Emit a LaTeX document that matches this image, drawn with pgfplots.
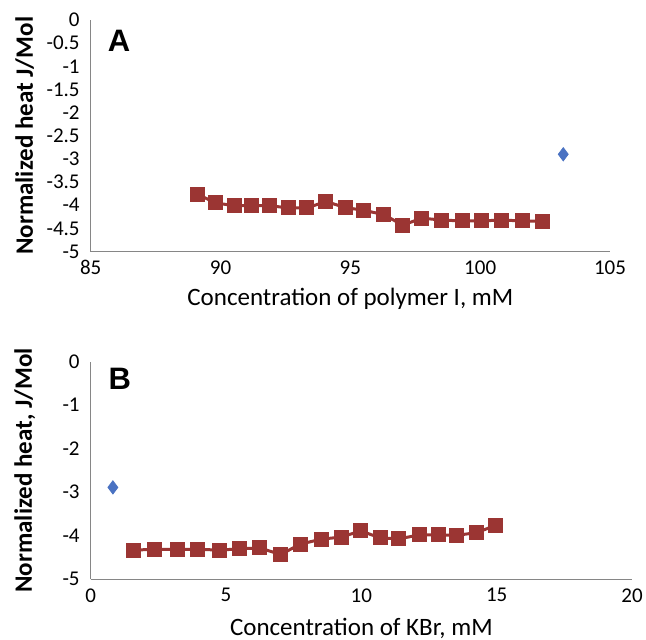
\documentclass[border=0pt]{standalone}
\usepackage{fontspec}
\setmainfont{Carlito}
\newfontfamily\panelfont{Liberation Sans}
\usepackage{pgfplots}
\pgfplotsset{compat=1.18}

\definecolor{serred}{HTML}{9B3533}
\definecolor{serblue}{HTML}{4A72C2}
\definecolor{axgray}{HTML}{868686}

\pgfplotsset{
  itcpanel/.style={
    scale only axis,
    axis lines=left,
    axis line style={axgray, line width=0.75pt, -},
    major tick length=0pt,
    tick style={draw=none},
    ticklabel style={font=\fontsize{10.5}{12}\selectfont},
    /pgf/number format/assume math mode=true,
    xticklabel style={yshift=-1pt},
    yticklabel style={xshift=-2pt},
    xlabel style={font=\fontsize{12.5}{14}\selectfont, anchor=center},
    ylabel style={font=\fontsize{12.5}{14}\selectfont\bfseries, anchor=center},
    ymin=-5, ymax=0,
    clip=false,
  },
  heat/.style={serred, line width=1.5pt, mark=square*, mark size=3pt, mark options={solid}},
  single/.style={only marks, mark=diamond*, mark size=3.3pt, color=serblue},
}
\tikzset{letter/.style={font=\panelfont\bfseries\fontsize{15.5}{17}\selectfont}}

\begin{document}
\begin{tikzpicture}
\useasboundingbox (-45.35pt,-29.85pt) rectangle (277.65pt,289.65pt);

% panel A: titration with polymer I
\begin{axis}[itcpanel,
    at={(0pt,163.9pt)}, anchor=south west,
    width=259.65pt, height=115.75pt,
    xmin=85, xmax=105,
    xtick={85,90,95,100,105},
    ytick={-5,-4.5,-4,-3.5,-3,-2.5,-2,-1.5,-1,-0.5,0},
    xlabel={Concentration of polymer I, mM},
    ylabel={Normalized heat J/Mol},
    xlabel style={at={(axis description cs:0.5,-0.203)}},
    ylabel style={at={(axis description cs:-0.127,0.5)}},
]
\addplot[heat] coordinates {
  (89.11,-3.76) (89.80,-3.95) (90.52,-4.01) (91.21,-4.01) (91.90,-4.01)
  (92.62,-4.06) (93.32,-4.06) (94.06,-3.92) (94.80,-4.05) (95.51,-4.11)
  (96.27,-4.20) (97.02,-4.43) (97.75,-4.28) (98.51,-4.32) (99.30,-4.34)
  (100.05,-4.34) (100.82,-4.32) (101.62,-4.34) (102.41,-4.35)
};
\addplot[single] coordinates {(103.2,-2.9)};
\node[letter] at (axis description cs:0.0545,0.909) {A};
\end{axis}

% panel B: titration with KBr
\begin{axis}[itcpanel,
    at={(0pt,0pt)}, anchor=south west,
    width=270.65pt, height=108.9pt,
    xmin=0, xmax=20,
    xtick={0,5,10,15,20},
    ytick={-5,-4,-3,-2,-1,0},
    xlabel={Concentration of KBr, mM},
    ylabel={Normalized heat, J/Mol},
    xlabel style={at={(axis description cs:0.5,-0.225)}},
    ylabel style={at={(axis description cs:-0.1216,0.5)}},
]
\addplot[heat] coordinates {
  (1.59,-4.33) (2.36,-4.31) (3.19,-4.31) (3.96,-4.31) (4.76,-4.33)
  (5.49,-4.30) (6.25,-4.28) (7.01,-4.43) (7.76,-4.19) (8.51,-4.08)
  (9.25,-4.03) (9.98,-3.89) (10.70,-4.05) (11.39,-4.07) (12.15,-3.98)
  (12.84,-3.98) (13.52,-3.99) (14.25,-3.93) (14.97,-3.76)
};
\addplot[single] coordinates {(0.82,-2.89)};
\node[letter] at (axis description cs:0.054,0.92) {B};
\end{axis}
\end{tikzpicture}
\end{document}
